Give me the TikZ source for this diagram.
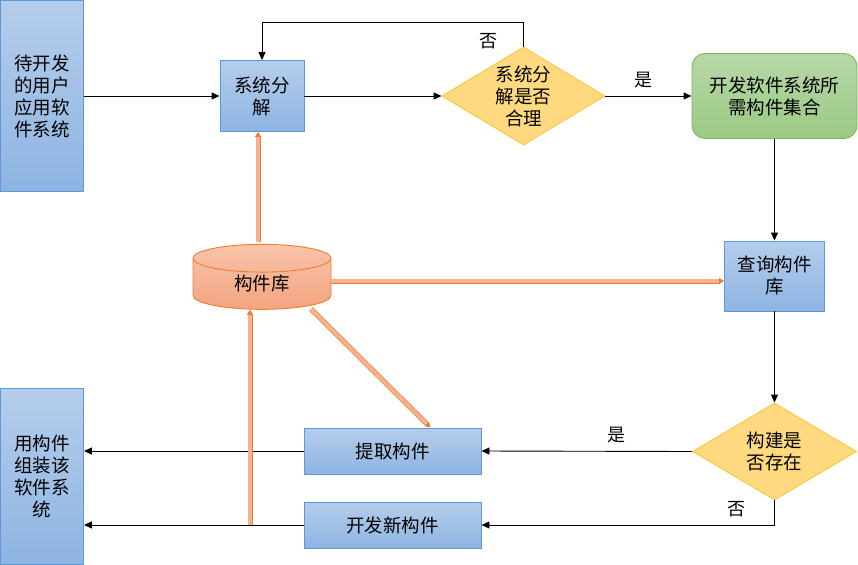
\documentclass[tikz,border=0pt]{standalone}
\usepackage{fontspec}
\newfontfamily\cjk{Noto Sans CJK SC}
\usetikzlibrary{shapes.geometric,arrows.meta,calc}
\definecolor{boxtop}{HTML}{B5CDEB}
\definecolor{boxbot}{HTML}{8EB4E3}
\definecolor{boxedge}{HTML}{5B9BD5}
\definecolor{askfill}{HTML}{FFD97F}
\definecolor{askedge}{HTML}{F9C53E}
\definecolor{goaltop}{HTML}{B6D8A8}
\definecolor{goalbot}{HTML}{9CC984}
\definecolor{goaledge}{HTML}{7DB55C}
\definecolor{libtop}{HTML}{F8C4AB}
\definecolor{libbot}{HTML}{F4A47F}
\definecolor{libedge}{HTML}{ED7D31}
\definecolor{barfill}{HTML}{F6B290}
\begin{document}
\begin{tikzpicture}[x=1pt,y=-1pt,
  every node/.style={font=\cjk\fontsize{18.5}{22}\selectfont, align=center},
  bluebox/.style={draw=boxedge, line width=0.9pt, top color=boxtop, bottom color=boxbot, inner sep=0pt},
  askbox/.style={diamond, draw=askedge, line width=0.9pt, fill=askfill, inner sep=0pt, aspect=1.66},
  flow/.style={draw=black, line width=0.9pt, -{Triangle[length=8pt,width=7pt]}},
  fatbar/.style={draw=libedge, line width=0.7pt, double=barfill, double distance=3.6pt, -{Triangle[length=5pt,width=6pt]}},
  lbl/.style={font=\cjk\fontsize{18}{20}\selectfont}]
  \useasboundingbox (0,0) rectangle (858,564);
  % nodes
  \node[bluebox, minimum width=83pt, minimum height=191pt] (src) at (42,96) {待开发\\的用户\\应用软\\件系统};
  \node[bluebox, minimum width=84pt, minimum height=71pt] (decomp) at (262,96) {系统分\\解};
  \node[askbox, minimum width=163pt, minimum height=98pt] (check1) at (523.5,96) {系统分\\解是否\\合理};
  \node[draw=goaledge, line width=0.9pt, top color=goaltop, bottom color=goalbot, rounded corners=13pt,
        minimum width=165pt, minimum height=85pt] (goal) at (774.5,96) {开发软件系统所\\需构件集合};
  \node[bluebox, minimum width=100pt, minimum height=70pt] (query) at (774.5,276) {查询构件\\库};
  \node[cylinder, shape border rotate=90, aspect=0.5, draw=libedge, line width=0.9pt, top color=libtop, bottom color=libbot,
        minimum width=138pt, minimum height=65pt, inner sep=0pt] (lib) at (262,284) {\raisebox{-5pt}{构件库}};
  \node[askbox, minimum width=164pt, minimum height=97pt] (check2) at (774.5,451.5) {构建是\\否存在};
  \node[bluebox, minimum width=177pt, minimum height=46pt] (pick) at (392.5,451) {提取构件};
  \node[bluebox, minimum width=177pt, minimum height=46pt] (newc) at (392.5,525) {开发新构件};
  \node[bluebox, minimum width=83pt, minimum height=176pt] (dst) at (42,476) {用构件\\组装该\\软件系\\统};
  % connectors
  \draw[flow] (src.east) -- (decomp.west);
  \draw[flow] (decomp.east) -- (check1.west);
  \draw[flow] (check1.east) -- (goal.west);
  \node[lbl] (yes1) at (643,80) {是};
  \draw[flow] (check1.north) -- ++(0,-24) -| (decomp.north);
  \node[lbl] (no1) at ($(check1.north)+(-35,-5)$) {否};
  \draw[flow] (goal.south) -- (query.north);
  \draw[flow] (query.south) -- (check2.north);
  \draw[flow] (check2.west) -- (pick.east);
  \node[lbl] (yes2) at (616,435) {是};
  \draw[flow] (check2.south) |- (newc.east);
  \node[lbl] (no2) at ($(check2.south)+(-38,9)$) {否};
  \draw[flow] (pick.west) -- (pick.west -| dst.east);
  \draw[flow] (newc.west) -- (newc.west -| dst.east);
  % component library links
  \coordinate (tap) at (250,525);
  \draw[fatbar] ($(lib.north)+(-4,-2)$) -- ($(decomp.south)+(-4,0)$);
  \draw[fatbar] (tap) -- (tap |- lib.south);
  \draw[fatbar] ($(lib.center)+(49,25)$) -- ($(pick.north)+(38,0)$);
  \draw[fatbar] ($(lib.east)+(0,-3)$) -- (query.west |- {$(lib.east)+(0,-3)$});
\end{tikzpicture}
\end{document}
